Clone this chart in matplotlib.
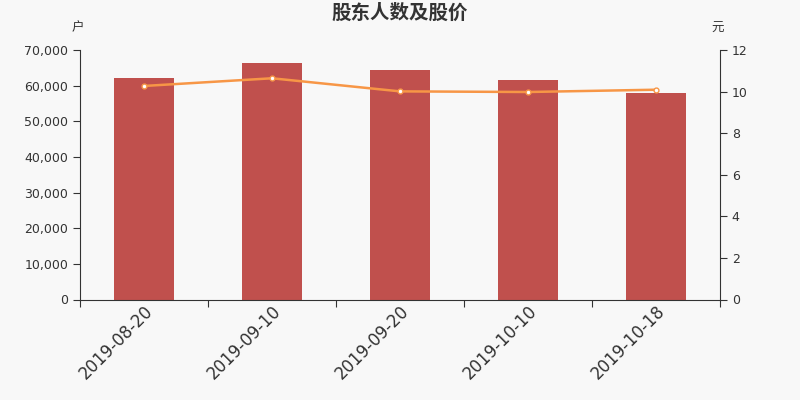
import matplotlib
matplotlib.use("Agg")
import matplotlib.pyplot as plt

plt.rcParams['font.family'] = ['DejaVu Sans', 'Noto Sans CJK SC']

dates = ["2019-08-20", "2019-09-10", "2019-09-20", "2019-10-10", "2019-10-18"]
holders = [62100, 66300, 64400, 61550, 58000]
prices = [10.27, 10.64, 10.01, 9.98, 10.09]

BG = "#f8f8f8"
fig = plt.figure(figsize=(8, 4), dpi=100, facecolor=BG)
ax = fig.add_axes([80/800, 1-299.5/400, 640/800, 249.5/400])
ax.set_facecolor(BG)

x = list(range(len(dates)))
ax.bar(x, holders, width=60/128, color="#c0504d", zorder=2)
ax.set_xlim(-0.5, len(dates) - 0.5)
ax.set_ylim(0, 70000)
ax.set_yticks(range(0, 70001, 10000))
ax.set_yticklabels([f"{v:,}" for v in range(0, 70001, 10000)])

ax.set_xticks([i - 0.5 for i in range(len(dates) + 1)])
ax.set_xticklabels([])
ax.set_xticks(x, minor=True)
ax.set_xticklabels(dates, minor=True, rotation=45, ha='right', rotation_mode='anchor',
                   fontsize=12, color="#333333")
ax.tick_params(axis='x', which='minor', length=0, pad=2)
ax.tick_params(axis='x', which='major', length=5, color="#333333")
ax.tick_params(axis='y', length=5, color="#333333", labelsize=9, labelcolor="#333333")

for s in ['top', 'right']:
    ax.spines[s].set_visible(False)
for s in ['left', 'bottom']:
    ax.spines[s].set_color("#333333")

ax2 = ax.twinx()
ax2.plot(x, prices, color="#f79646", lw=1.8, marker='o', ms=3.5,
         markerfacecolor='white', markeredgecolor="#f79646", markeredgewidth=1, zorder=3)
ax2.set_ylim(0, 12)
ax2.set_yticks(range(0, 13, 2))
ax2.tick_params(axis='y', length=5, color="#333333", labelsize=9, labelcolor="#333333")
for s in ['top', 'left', 'bottom']:
    ax2.spines[s].set_visible(False)
ax2.spines['right'].set_color("#333333")

fig.text(400/800, 1-13/400, "股东人数及股价", ha='center', va='center', fontsize=14,
         fontweight='bold', color="#333333", family=['Noto Sans CJK SC'])
fig.text(78/800, 1-28/400, "户", ha='center', va='center', fontsize=9, color="#333333",
         family=['Noto Sans CJK SC'])
fig.text(718/800, 1-28/400, "元", ha='center', va='center', fontsize=9, color="#333333",
         family=['Noto Sans CJK SC'])

fig.savefig("out.png", dpi=100, facecolor=BG)
